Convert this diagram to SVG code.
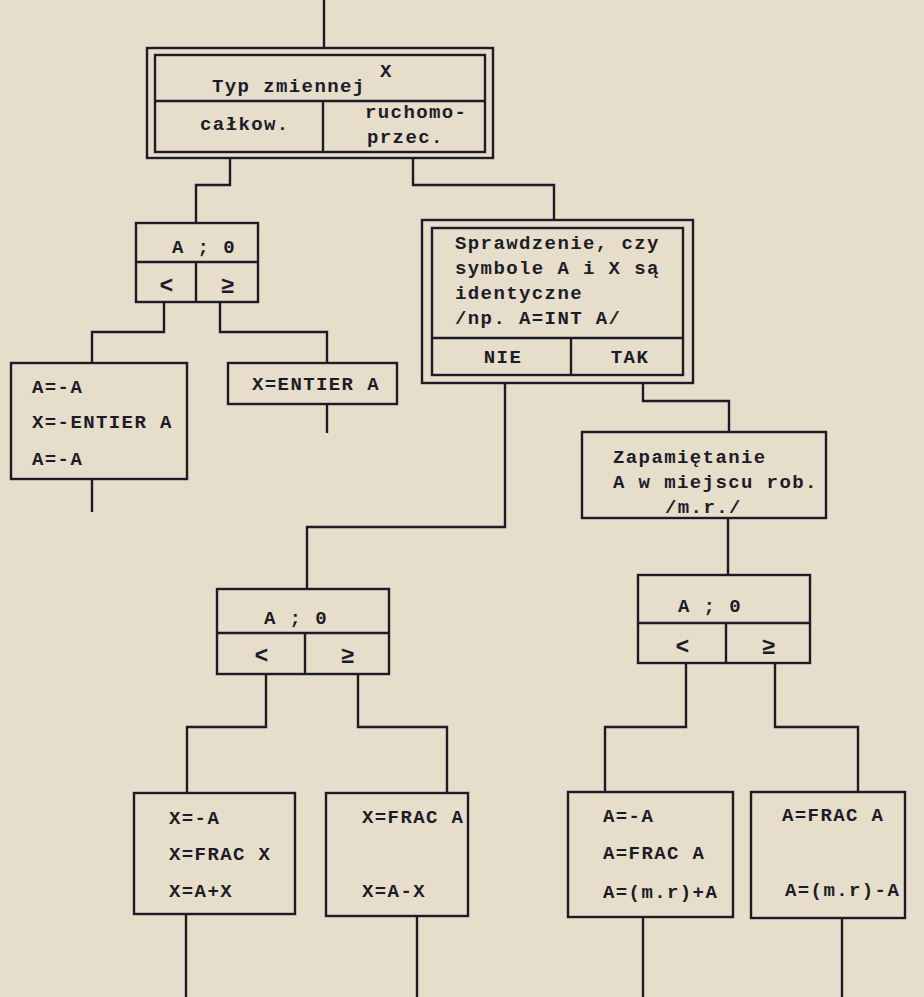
<svg xmlns="http://www.w3.org/2000/svg" width="924" height="997" viewBox="0 0 924 997">
<style>
.bg{fill:#e6ddca}
.b{fill:none;stroke:#1c1c28;stroke-width:2.4}
.c{fill:none;stroke:#1c1c28;stroke-width:2.4;stroke-linejoin:miter}
.t{font-family:"Liberation Mono","DejaVu Sans Mono",monospace;font-size:19px;font-weight:bold;letter-spacing:1.4px;fill:#1c1c28}
.m{text-anchor:middle}
.s{font-size:23px}
</style>
<rect class="bg" x="0" y="0" width="924" height="997"/>
<g id="connectors">
<path class="c" d="M324,0 V48"/>
<path class="c" d="M230,158 V185 H196 V223"/>
<path class="c" d="M413,158 V185 H554 V220"/>
<path class="c" d="M164,302 V332 H92 V363"/>
<path class="c" d="M220,302 V332 H327 V363"/>
<path class="c" d="M92,479 V512"/>
<path class="c" d="M327,404 V433"/>
<path class="c" d="M505,383 V527 H307 V589"/>
<path class="c" d="M643,383 V401 H729 V432"/>
<path class="c" d="M728,518 V575"/>
<path class="c" d="M266,674 V727 H187 V793"/>
<path class="c" d="M358,674 V727 H447 V793"/>
<path class="c" d="M686,663 V727 H605 V793"/>
<path class="c" d="M775,663 V727 H858 V793"/>
<path class="c" d="M186,914 V997"/>
<path class="c" d="M417,916 V997"/>
<path class="c" d="M643,917 V997"/>
<path class="c" d="M842,918 V997"/>
</g>
<g id="typ">
<rect class="b" x="147" y="48" width="346" height="110"/>
<rect class="b" x="155" y="55" width="330" height="97"/>
<path class="b" d="M155,101 H485 M323,101 V152"/>
<text class="t" x="212" y="92">Typ zmiennej</text>
<text class="t" x="380" y="77">X</text>
<text class="t" x="200" y="130">całkow.</text>
<text class="t" x="365" y="118">ruchomo-</text>
<text class="t" x="367" y="143">przec.</text>
</g>
<g id="cmp1">
<rect class="b" x="136" y="223" width="122" height="79"/>
<path class="b" d="M136,262 H258 M196,262 V302"/>
<text class="t" x="172" y="253">A ; 0</text>
<text class="t m s" x="167" y="293">&lt;</text>
<text class="t m s" x="228" y="293">≥</text>
</g>
<g id="neg">
<rect class="b" x="11" y="363" width="176" height="116"/>
<text class="t" x="32" y="393">A=-A</text>
<text class="t" x="32" y="428">X=-ENTIER A</text>
<text class="t" x="32" y="465">A=-A</text>
</g>
<g id="entier">
<rect class="b" x="228" y="363" width="169" height="41"/>
<text class="t" x="252" y="390">X=ENTIER A</text>
</g>
<g id="check">
<rect class="b" x="422" y="220" width="271" height="163"/>
<rect class="b" x="432" y="228" width="251" height="147"/>
<path class="b" d="M432,338 H683 M571,338 V375"/>
<text class="t" x="455" y="249">Sprawdzenie, czy</text>
<text class="t" x="455" y="274">symbole A i X są</text>
<text class="t" x="455" y="299">identyczne</text>
<text class="t" x="455" y="324">/np. A=INT A/</text>
<text class="t m" x="503" y="363">NIE</text>
<text class="t m" x="630" y="363">TAK</text>
</g>
<g id="store">
<rect class="b" x="582" y="432" width="244" height="86"/>
<text class="t" x="613" y="463">Zapamiętanie</text>
<text class="t" x="613" y="488">A w miejscu rob.</text>
<text class="t" x="665" y="513">/m.r./</text>
</g>
<g id="cmp2">
<rect class="b" x="217" y="589" width="172" height="85"/>
<path class="b" d="M217,633 H389 M305,633 V674"/>
<text class="t" x="264" y="624">A ; 0</text>
<text class="t m s" x="262" y="663">&lt;</text>
<text class="t m s" x="348" y="663">≥</text>
</g>
<g id="cmp3">
<rect class="b" x="638" y="575" width="172" height="88"/>
<path class="b" d="M638,623 H810 M726,623 V663"/>
<text class="t" x="678" y="612">A ; 0</text>
<text class="t m s" x="683" y="654">&lt;</text>
<text class="t m s" x="769" y="654">≥</text>
</g>
<g id="box1">
<rect class="b" x="134" y="793" width="161" height="121"/>
<text class="t" x="169" y="824">X=-A</text>
<text class="t" x="169" y="860">X=FRAC X</text>
<text class="t" x="169" y="897">X=A+X</text>
</g>
<g id="box2">
<rect class="b" x="326" y="793" width="142" height="123"/>
<text class="t" x="362" y="823">X=FRAC A</text>
<text class="t" x="362" y="897">X=A-X</text>
</g>
<g id="box3">
<rect class="b" x="568" y="792" width="165" height="125"/>
<text class="t" x="603" y="822">A=-A</text>
<text class="t" x="603" y="859">A=FRAC A</text>
<text class="t" x="603" y="898">A=(m.r)+A</text>
</g>
<g id="box4">
<rect class="b" x="751" y="792" width="154" height="126"/>
<text class="t" x="782" y="821">A=FRAC A</text>
<text class="t" x="785" y="896">A=(m.r)-A</text>
</g>
</svg>
